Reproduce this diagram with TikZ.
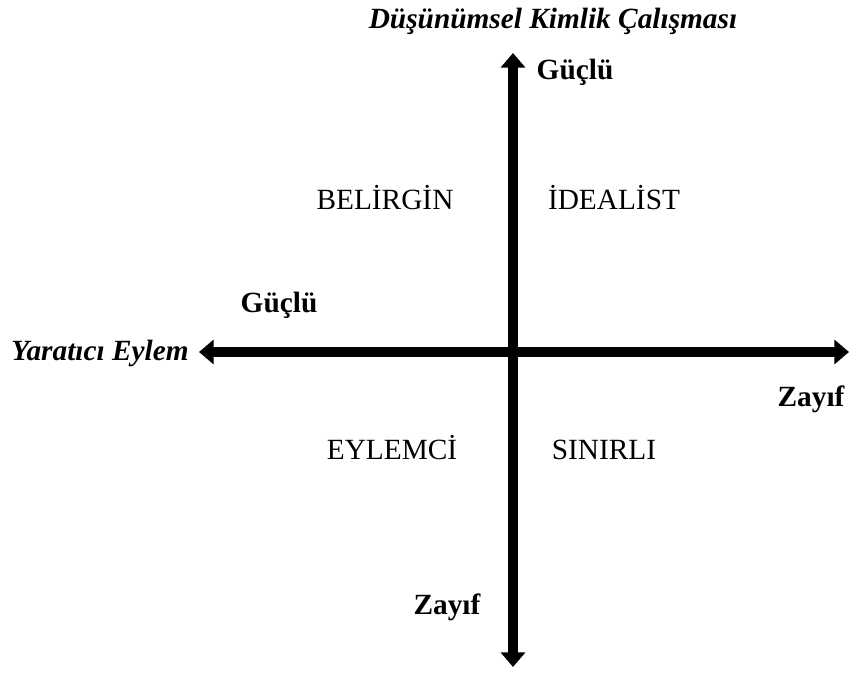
\documentclass[tikz,border=0pt]{standalone}
\usepackage{fontspec}
\setmainfont{Liberation Serif}
\usetikzlibrary{arrows.meta}
\begin{document}
\begin{tikzpicture}
[x=0.75pt,y=-0.75pt,
  axisdecorate/.style={{Triangle[length=11pt,width=18pt]}-{Triangle[length=11pt,width=18pt]},line width=8pt},%
  quaddecorate/.style={anchor=base,inner sep=0pt,font=\fontsize{22}{26}\selectfont},%
  levelsdecorate/.style={anchor=base,inner sep=0pt,font=\fontsize{22}{26}\selectfont\bfseries},%
  titledecorate/.style={anchor=base,inner sep=0pt,font=\fontsize{22}{26}\selectfont\bfseries\itshape}]
\useasboundingbox (0,0) rectangle (849,673);
%% ends of the axes
\coordinate (north) at (513,53);
\coordinate (south) at (513,667);
\coordinate (west) at (199,352);
\coordinate (east) at (849,352);
%% axes
\draw[axisdecorate] (west) -- (east);
\draw[axisdecorate] (north) -- (south);
%% axis titles
\node (ytitle) at (553,29) [titledecorate] {Düşünümsel Kimlik Çalışması};
\node (xtitle) at (100,361) [titledecorate] {Yaratıcı Eylem};
%% strong and weak ends
\foreach \nodename/\x/\y/\txt in {ystrong/575/80/Güçlü, yweak/447/614/Zayıf,
  xstrong/279/313/Güçlü, xweak/811/406/Zayıf} {
  \node (\nodename) at (\x,\y) [levelsdecorate] {\txt};
}
%% quadrants
\foreach \nodename/\x/\y/\txt in {nw/385/210/BELİRGİN, ne/614/210/İDEALİST,
  sw/392/459/EYLEMCİ, se/604/459/SINIRLI} {
  \node (\nodename) at (\x,\y) [quaddecorate] {\txt};
}
\end{tikzpicture}
\end{document}
